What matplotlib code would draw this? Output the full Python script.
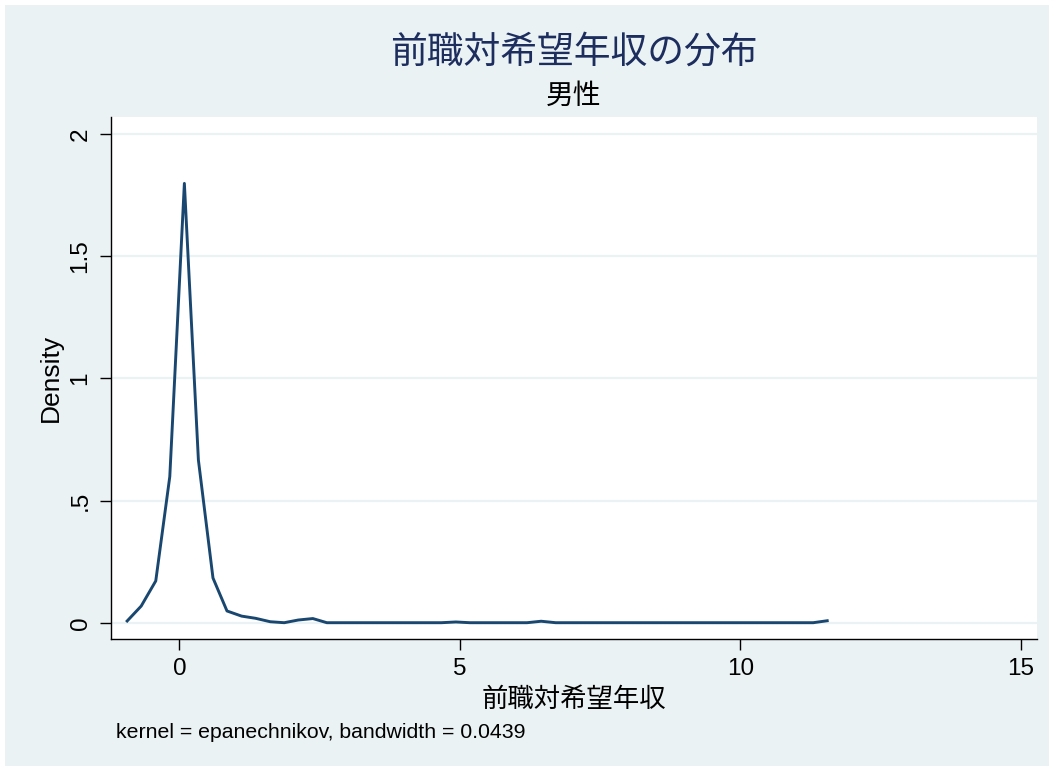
import matplotlib.pyplot as plt
from matplotlib.patches import Rectangle

plt.rcParams['font.family'] = ['Liberation Sans', 'Noto Sans CJK JP']

# kernel density estimate evaluated on 50 points (men)
x = [-0.93, -0.68, -0.42, -0.17, 0.09, 0.34, 0.60, 0.85, 1.11, 1.36,
     1.62, 1.87, 2.12, 2.38, 2.63, 2.89, 3.14, 3.40, 3.65, 3.91,
     4.16, 4.42, 4.67, 4.93, 5.18, 5.44, 5.69, 5.95, 6.20, 6.45,
     6.71, 6.96, 7.22, 7.47, 7.73, 7.98, 8.24, 8.49, 8.75, 9.00,
     9.26, 9.51, 9.77, 10.02, 10.28, 10.53, 10.79, 11.04, 11.30, 11.55]
density = [0.007, 0.068, 0.171, 0.598, 1.798, 0.666, 0.183, 0.048, 0.027, 0.018,
           0.004, 0.0, 0.011, 0.017, 0.0, 0.0, 0.0, 0.0, 0.0, 0.0,
           0.0, 0.0, 0.0, 0.003, 0.0, 0.0, 0.0, 0.0, 0.0, 0.006,
           0.0, 0.0, 0.0, 0.0, 0.0, 0.0, 0.0, 0.0, 0.0, 0.0,
           0.0, 0.0, 0.0, 0.0, 0.0, 0.0, 0.0, 0.0, 0.0, 0.008]

xticks = [0, 5, 10, 15]
yticks = [0, 0.5, 1, 1.5, 2]
ytick_labels = ['0', '.5', '1', '1.5', '2']

bg = '#eaf2f3'
W, H = 1054, 771
fig = plt.figure(figsize=(W / 100, H / 100), dpi=100, facecolor='white')
fig.patches.append(Rectangle((5 / W, 5 / H), 1 - 10 / W, 1 - 10 / H,
                             transform=fig.transFigure, facecolor=bg,
                             edgecolor='none', zorder=-10))

ax = fig.add_axes([111 / W, 1 - 639 / H, (1037 - 111) / W, (639 - 116.7) / H])
ax.set_facecolor('white')
ax.plot(x, density, color='#1a476f', lw=2.1, zorder=3)

ax.set_xlim(-1.218, 15.29)
ax.set_ylim(-0.0667, 2.071)
ax.set_xticks(xticks)
ax.set_xticklabels([str(t) for t in xticks], fontsize=17.5)
ax.set_yticks(yticks)
ax.set_yticklabels(ytick_labels, fontsize=17.5, rotation=90, va='center')
ax.tick_params(length=8, width=1, color='black', pad=6)
ax.yaxis.grid(True, color=bg, lw=1.6)
ax.set_axisbelow(True)
for side in ['top', 'right']:
    ax.spines[side].set_visible(False)
for side in ['left', 'bottom']:
    ax.spines[side].set_linewidth(1)

ax.set_ylabel('Density', fontsize=19, labelpad=5)
ax.set_xlabel('前職対希望年収', fontsize=19, family='Noto Sans CJK JP', labelpad=4)

fig.text(574 / W, 1 - 52 / H, '前職対希望年収の分布', fontsize=26.5,
         family='Noto Sans CJK JP', color='#1c2d5e', ha='center', va='center')
fig.text(574 / W, 1 - 96 / H, '男性', fontsize=20,
         family='Noto Sans CJK JP', color='black', ha='center', va='center')
fig.text(116 / W, 1 - 732 / H, 'kernel = epanechnikov, bandwidth = 0.0439',
         fontsize=15.3, ha='left', va='center')

fig.savefig('out.png', dpi=100, facecolor=fig.get_facecolor())
